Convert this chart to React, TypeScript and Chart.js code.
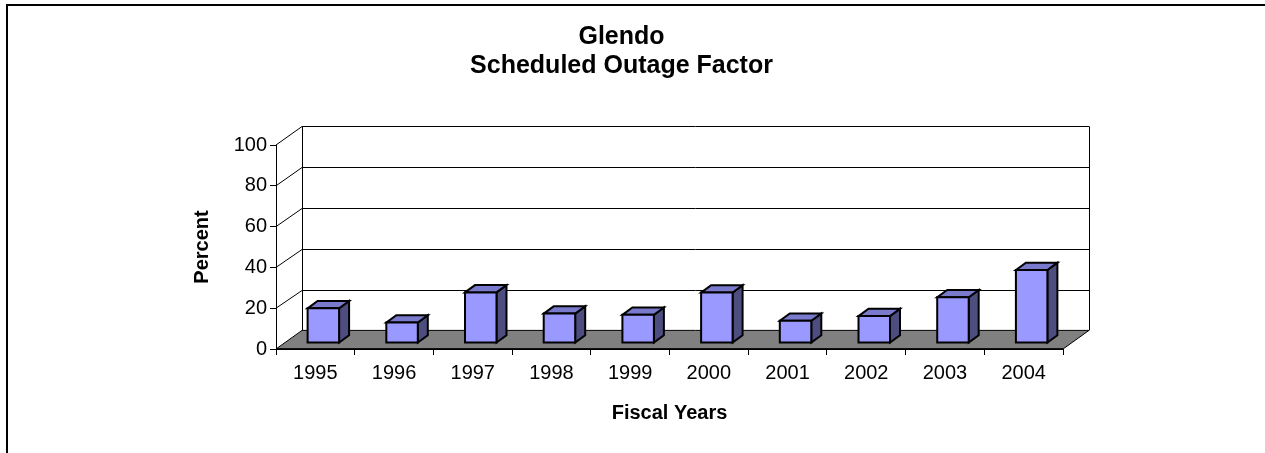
import React, { useEffect, useRef } from 'react';
import { Chart, registerables } from 'chart.js';

Chart.register(...registerables);

// ---- data ----
const years = ['1995', '1996', '1997', '1998', '1999', '2000', '2001', '2002', '2003', '2004'];
const outageFactor = [17, 10, 24.8, 14.4, 13.8, 24.7, 10.9, 13.2, 22.4, 35.8];
const yMin = 0;
const yMax = 100;
const yStep = 20;
const titleLines = ['Glendo', 'Scheduled Outage Factor'];
const xTitle = 'Fiscal Years';
const yTitle = 'Percent';

// ---- style ----
const FONT = "'Liberation Sans', Arial, Helvetica, sans-serif";
const WALL_DX = 26;
const WALL_DY = -18.6;
const BAR_SHIFT_X = 8;
const BAR_SHIFT_Y = -6;
const BAR_DX = 10;
const BAR_DY = -7.3;
const FRONT = '#9999FF';
const TOP = '#7A7ACC';
const SIDE = '#4D4D80';
const FLOOR = '#808080';

const threeD = {
  id: 'threeD',
  beforeDatasetsDraw(chart: any) {
    const { ctx, chartArea: a, scales } = chart;
    const y = scales.y;
    const y0 = y.getPixelForValue(yMin);
    const yTop = y.getPixelForValue(yMax);
    ctx.save();
    // floor
    ctx.beginPath();
    ctx.moveTo(a.left, y0);
    ctx.lineTo(a.right, y0);
    ctx.lineTo(a.right + WALL_DX, y0 + WALL_DY);
    ctx.lineTo(a.left + WALL_DX, y0 + WALL_DY);
    ctx.closePath();
    ctx.fillStyle = FLOOR;
    ctx.fill();
    ctx.strokeStyle = '#000';
    ctx.lineWidth = 1;
    ctx.stroke();
    ctx.lineWidth = 1.5;
    ctx.beginPath();
    ctx.moveTo(a.left, y0);
    ctx.lineTo(a.right, y0);
    ctx.stroke();
    // gridlines on side and back walls
    ctx.lineWidth = 1;
    ctx.strokeStyle = '#000';
    y.ticks.forEach((t: any) => {
      if (t.value === yMin) return;
      const py = y.getPixelForValue(t.value);
      const by = Math.round(py + WALL_DY) + 0.5;
      ctx.beginPath();
      ctx.moveTo(a.left, py);
      ctx.lineTo(a.left + WALL_DX, by);
      ctx.stroke();
      ctx.beginPath();
      ctx.moveTo(a.left + WALL_DX, by);
      ctx.lineTo(a.right + WALL_DX, by);
      ctx.stroke();
    });
    // back wall vertical edges
    const lx = Math.round(a.left + WALL_DX) + 0.5;
    const rx = Math.round(a.right + WALL_DX) + 0.5;
    ctx.beginPath();
    ctx.moveTo(lx, yTop + WALL_DY);
    ctx.lineTo(lx, y0 + WALL_DY);
    ctx.moveTo(rx, yTop + WALL_DY);
    ctx.lineTo(rx, y0 + WALL_DY);
    ctx.stroke();
    ctx.restore();
  },
  afterDatasetsDraw(chart: any) {
    const { ctx } = chart;
    const meta = chart.getDatasetMeta(0);
    ctx.save();
    ctx.lineWidth = 2;
    ctx.strokeStyle = '#000';
    ctx.lineJoin = 'miter';
    meta.data.forEach((el: any) => {
      const w = el.width;
      const L = el.x - w / 2 + BAR_SHIFT_X;
      const R = el.x + w / 2 + BAR_SHIFT_X;
      const T = el.y + BAR_SHIFT_Y;
      const B = el.base + BAR_SHIFT_Y;
      // side
      ctx.beginPath();
      ctx.moveTo(R, T);
      ctx.lineTo(R + BAR_DX, T + BAR_DY);
      ctx.lineTo(R + BAR_DX, B + BAR_DY);
      ctx.lineTo(R, B);
      ctx.closePath();
      ctx.fillStyle = SIDE;
      ctx.fill();
      ctx.stroke();
      // top
      ctx.beginPath();
      ctx.moveTo(L, T);
      ctx.lineTo(L + BAR_DX, T + BAR_DY);
      ctx.lineTo(R + BAR_DX, T + BAR_DY);
      ctx.lineTo(R, T);
      ctx.closePath();
      ctx.fillStyle = TOP;
      ctx.fill();
      ctx.stroke();
      // front
      ctx.beginPath();
      ctx.rect(L, T, R - L, B - T);
      ctx.fillStyle = FRONT;
      ctx.fill();
      ctx.stroke();
    });
    ctx.restore();
  },
  afterDraw(chart: any) {
    const { ctx, width, height } = chart;
    ctx.save();
    ctx.strokeStyle = '#000';
    ctx.lineWidth = 2;
    ctx.beginPath();
    ctx.moveTo(7, height + 2);
    ctx.lineTo(7, 5);
    ctx.lineTo(width + 2, 5);
    ctx.stroke();
    ctx.restore();
  },
};

export default function App() {
  const ref = useRef<HTMLCanvasElement | null>(null);
  useEffect(() => {
    document.body.style.margin = '0';
    const canvas = ref.current;
    if (!canvas) return;
    const chart = new Chart(canvas, {
      type: 'bar',
      data: {
        labels: years,
        datasets: [
          {
            data: outageFactor,
            backgroundColor: 'rgba(0,0,0,0)',
            borderWidth: 0,
            barPercentage: 0.4,
            categoryPercentage: 1,
          },
        ],
      },
      options: {
        responsive: false,
        animation: false,
        events: [],
        layout: { padding: { left: 180, right: 202, top: 0, bottom: 0 } },
        plugins: {
          legend: { display: false },
          tooltip: { enabled: false },
          title: {
            display: true,
            text: titleLines,
            color: '#000',
            font: { family: FONT, size: 25, weight: 'bold', lineHeight: 1.16 },
            padding: { top: 23, bottom: 64 },
          },
        },
        scales: {
          x: {
            offset: true,
            grid: {
              offset: true,
              drawOnChartArea: false,
              drawTicks: true,
              tickLength: 6,
              color: '#000',
            },
            border: { display: true, color: '#000', width: 1 },
            ticks: {
              color: '#000',
              font: { family: FONT, size: 20 },
              padding: 6,
              maxRotation: 0,
              autoSkip: false,
            },
            title: {
              display: true,
              text: xTitle,
              color: '#000',
              font: { family: FONT, size: 20, weight: 'bold' },
              padding: { top: 0, bottom: 28 },
            },
            afterFit: (s: any) => {
              s.height = 104;
            },
          },
          y: {
            min: yMin,
            max: yMax,
            grid: {
              drawOnChartArea: false,
              drawTicks: true,
              tickLength: 6,
              color: '#000',
            },
            border: { display: true, color: '#000', width: 1 },
            ticks: {
              stepSize: yStep,
              color: '#000',
              font: { family: FONT, size: 20 },
              padding: 3,
            },
            title: {
              display: true,
              text: yTitle,
              color: '#000',
              font: { family: FONT, size: 20, weight: 'bold' },
              padding: { top: 10, bottom: 0 },
            },
            afterFit: (s: any) => {
              s.width = 96;
            },
          },
        },
      },
      plugins: [threeD],
    });
    return () => chart.destroy();
  }, []);
  return (
    <div style={{ width: 1265, height: 453 }}>
      <canvas ref={ref} width={1265} height={453} style={{ display: 'block' }} />
    </div>
  );
}
